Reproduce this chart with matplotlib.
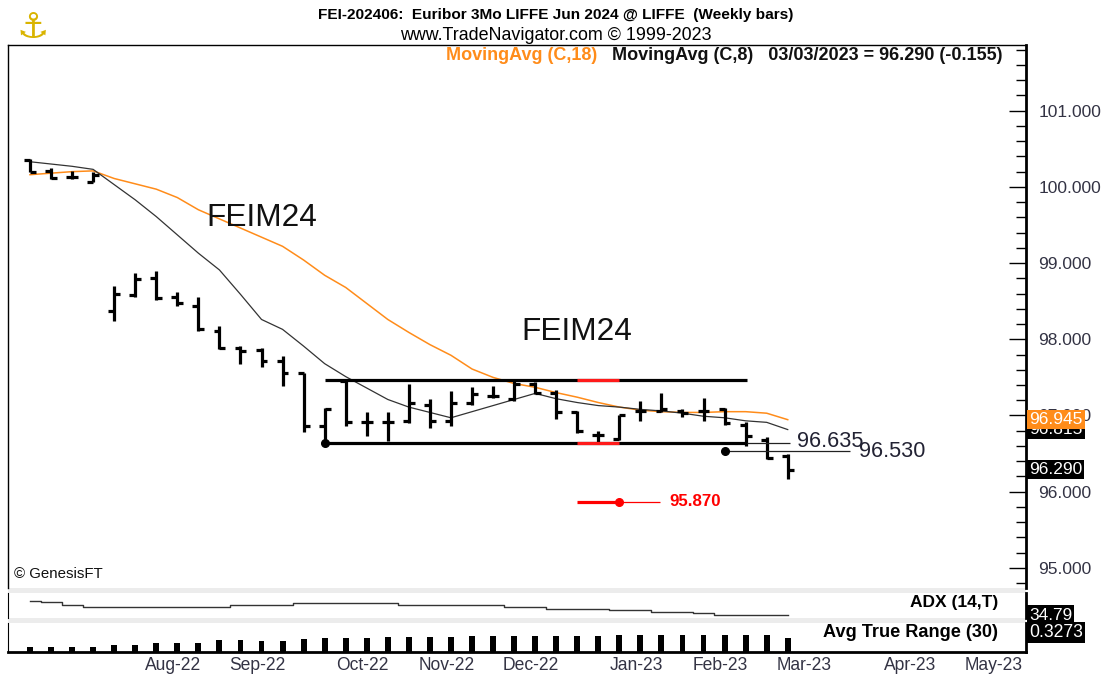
import matplotlib
matplotlib.use('Agg')
import matplotlib.pyplot as plt
import numpy as np
import pandas as pd
from matplotlib import font_manager as fm
from matplotlib.transforms import blended_transform_factory
from matplotlib.patches import Rectangle
from matplotlib.ticker import MultipleLocator

# ---------------- data ----------------
first_week = '2022-06-24'
n_bars = 37
opens  = [100.35, 100.21, 100.13, 100.07, 98.37, 98.58, 98.80, 98.55, 98.44, 98.11,
          97.89, 97.86, 97.71, 97.56, 96.86, 97.45, 96.91, 96.91, 96.93, 97.14,
          96.93, 97.17, 97.25, 97.21, 97.41, 97.30, 97.04, 96.75, 96.69, 97.06,
          97.06, 97.06, 97.06, 97.09, 96.88, 96.68, 96.47]
highs  = [100.36, 100.25, 100.21, 100.19, 98.70, 98.87, 98.90, 98.62, 98.55, 98.17,
          97.91, 97.88, 97.78, 97.56, 97.10, 97.47, 97.04, 97.04, 97.41, 97.22,
          97.32, 97.37, 97.39, 97.47, 97.44, 97.34, 97.06, 96.79, 97.01, 97.19,
          97.30, 97.08, 97.23, 97.10, 96.91, 96.72, 96.49]
lows   = [100.19, 100.11, 100.11, 100.06, 98.24, 98.55, 98.52, 98.44, 98.11, 97.87,
          97.68, 97.63, 97.39, 96.78, 96.635, 96.86, 96.73, 96.66, 96.90, 96.84,
          96.86, 97.14, 97.23, 97.19, 97.28, 96.95, 96.77, 96.65, 96.68, 96.93,
          97.04, 96.98, 96.93, 96.88, 96.60, 96.43, 96.16]
closes = [100.20, 100.12, 100.13, 100.16, 98.59, 98.79, 98.54, 98.47, 98.13, 97.89,
          97.84, 97.71, 97.56, 96.86, 97.08, 96.91, 96.91, 96.91, 97.17, 96.93,
          97.17, 97.28, 97.25, 97.41, 97.30, 97.04, 96.79, 96.75, 97.01, 97.06,
          97.08, 97.03, 97.06, 96.90, 96.73, 96.445, 96.29]
ma8  = [100.33, 100.30, 100.27, 100.23, 100.03, 99.83, 99.61, 99.37, 99.13, 98.91,
        98.59, 98.26, 98.13, 97.91, 97.68, 97.51, 97.36, 97.21, 97.11, 97.04,
        96.97, 97.05, 97.13, 97.21, 97.29, 97.22, 97.17, 97.13, 97.11, 97.08,
        97.06, 97.03, 96.99, 96.97, 96.93, 96.91, 96.815]
ma18 = [100.16, 100.18, 100.20, 100.21, 100.11, 100.04, 99.97, 99.86, 99.70, 99.58,
        99.46, 99.34, 99.22, 99.04, 98.84, 98.68, 98.47, 98.26, 98.09, 97.93,
        97.79, 97.61, 97.50, 97.42, 97.37, 97.30, 97.24, 97.17, 97.11, 97.07,
        97.05, 97.04, 97.04, 97.05, 97.05, 97.03, 96.945]
adx = [51.6, 50.0, 46.8, 44.4, 44.4, 44.4, 44.4, 44.4, 44.4, 44.4,
       46.8, 46.8, 46.8, 48.6, 48.6, 48.6, 48.6, 48.6, 46.2, 46.2,
       46.2, 46.2, 46.2, 43.8, 43.8, 42.0, 42.0, 42.0, 40.8, 40.8,
       38.8, 38.8, 36.8, 34.79, 34.79, 34.79, 34.79]
atr = [0.117, 0.117, 0.117, 0.117, 0.173, 0.173, 0.220, 0.220, 0.220, 0.274,
       0.274, 0.250, 0.250, 0.297, 0.327, 0.327, 0.327, 0.351, 0.360, 0.360,
       0.360, 0.379, 0.379, 0.379, 0.379, 0.379, 0.379, 0.379, 0.390, 0.390,
       0.390, 0.390, 0.390, 0.390, 0.390, 0.390, 0.3273]
month_labels = ['Aug-22', 'Sep-22', 'Oct-22', 'Nov-22', 'Dec-22', 'Jan-23',
                'Feb-23', 'Mar-23', 'Apr-23', 'May-23']
price_ticks = [95, 96, 97, 98, 99, 100, 101]
channel_top = 97.47
channel_bottom = 96.635
support_level = 96.53
target_level = 95.87
last_close = 96.290
last_change = -0.155
adx_last = 34.79
atr_last = 0.3273
chart_label = 'FEIM24'

# ---------------- setup ----------------
W, H = 1107, 675
names = {f.name for f in fm.fontManager.ttflist}
NARROW = 'Liberation Sans Narrow' if 'Liberation Sans Narrow' in names else 'Liberation Sans'
plt.rcParams['font.family'] = ['Liberation Sans', 'DejaVu Sans']

fig = plt.figure(figsize=(W / 100, H / 100), dpi=100)
fig.patch.set_facecolor('white')
renderer = fig.canvas.get_renderer()


def size_for(s, width_px, **kw):
    t = fig.text(0, 0, s, fontsize=10, **kw)
    w = t.get_window_extent(renderer).width
    t.remove()
    return 10.0 * width_px / w


def fx(px):
    return px / W


def fy(py):
    return 1 - py / H


left, right = 8, 1026
ax = fig.add_axes([fx(left), fy(588), fx(right - left), (588 - 45) / H])
ax_adx = fig.add_axes([fx(left), fy(618), fx(right - left), 25 / H])
ax_atr = fig.add_axes([fx(left), fy(652), fx(right - left), 29 / H])

# gray separator bands
for y0, y1 in [(588, 593), (618, 623)]:
    fig.add_artist(Rectangle((fx(left), fy(y1)), fx(right - left), (y1 - y0) / H,
                             transform=fig.transFigure, fc='#ececec', ec='none', zorder=0))

dates = pd.date_range(first_week, periods=60, freq='W-FRI')
x = np.arange(n_bars)
xlim = (-1.045, 47.32)

# ---------------- main price panel ----------------
ax.set_xlim(*xlim)
ax.set_ylim(94.736, 101.862)
bar_lw = 2.3
tick_len = 0.28
ax.vlines(x, lows, highs, color='black', lw=bar_lw, zorder=3)
ax.hlines(opens, x - tick_len, x, color='black', lw=bar_lw, zorder=3)
ax.hlines(closes, x, x + tick_len, color='black', lw=bar_lw, zorder=3)

ax.plot(x, ma18, color='#ff8c1a', lw=1.1, zorder=2)
ax.plot(x, ma8, color='#333333', lw=0.9, zorder=2)

# channel
i_start = int(np.argmin(np.abs(np.array(lows) - channel_bottom)))
ch_end = 34.06
ax.hlines([channel_top, channel_bottom], i_start, ch_end, color='black', lw=2.3, zorder=4)
ax.plot([i_start], [channel_bottom], 'o', color='black', ms=5.5, zorder=5)
ax.hlines([channel_top, channel_bottom], 26.0, 28.0, color='#ff1a1a', lw=2.3, zorder=5)
ax.hlines(channel_bottom, ch_end, 36.1, color='#222222', lw=0.9, zorder=4)
lab_fs = size_for(f'{channel_bottom:.3f}', 66)
ax.text(36.45, channel_bottom + 0.03, f'{channel_bottom:.3f}', fontsize=lab_fs,
        color='#222233', ha='left', va='center', zorder=6)
# support level
ax.hlines(support_level, 33.0, 38.95, color='#222222', lw=0.9, zorder=4)
ax.plot([33.0], [support_level], 'o', color='black', ms=5.5, zorder=5)
ax.text(39.4, support_level + 0.0, f'{support_level:.3f}', fontsize=lab_fs,
        color='#222233', ha='left', va='center', zorder=6)
# target
ax.hlines(target_level, 26.0, 28.0, color='#ff0000', lw=2.3, zorder=4)
ax.hlines(target_level, 28.0, 29.93, color='#ff0000', lw=0.9, zorder=4)
ax.plot([28.0], [target_level], 'o', color='#ff0000', ms=5.5, zorder=5)
ax.text(30.4, target_level, f'{target_level:.3f}', color='#ff0000', fontweight='bold',
        fontsize=size_for(f'{target_level:.3f}', 52, fontweight='bold'),
        ha='left', va='center', zorder=6)

# FEIM24 labels
feim_fs = size_for(chart_label, 111)
ax.text((262 - 30) / 21.05, 96 + (491.7 - 218) / 76.2, chart_label, fontsize=feim_fs,
        ha='center', va='center', color='#111111')
ax.text((577 - 30) / 21.05, 96 + (491.7 - 332) / 76.2, chart_label, fontsize=feim_fs,
        ha='center', va='center', color='#111111')

# axis styling
for s in ['bottom']:
    ax.spines[s].set_visible(False)
ax.spines['left'].set_linewidth(1.0)
ax.spines['top'].set_linewidth(1.0)
ax.spines['right'].set_linewidth(2.0)
ax.set_xticks([])
ax.yaxis.tick_right()
ax.set_yticks(price_ticks)
tick_fs = size_for('96.000', 53)
ax.set_yticklabels([f'{v:.3f}' for v in price_ticks])
ax.yaxis.set_minor_locator(MultipleLocator(0.2))
ax.tick_params(axis='y', which='major', direction='in', length=12, width=1,
               labelsize=tick_fs, labelcolor='#333344', pad=9)
ax.tick_params(axis='y', which='minor', direction='in', length=7, width=1)

trans = blended_transform_factory(ax.transAxes, ax.transData)
box_specs = [(ma8[-1], '#000000'), (ma18[-1], '#ff8c1a'), (last_close, '#000000')]
for val, col in box_specs:
    ax.annotate(f'{val:.3f}', xy=(1, val), xycoords=trans, xytext=(2.2, 0),
                textcoords='offset points', ha='left', va='center', color='white',
                fontsize=tick_fs, annotation_clip=False, zorder=10,
                bbox=dict(boxstyle='square,pad=0.12', fc=col, ec='none'))

ax.text(fx(14 - left) * W / (right - left), 0.012, '\u00a9 GenesisFT', transform=ax.transAxes,
        family=NARROW, fontsize=size_for('\u00a9 GenesisFT', 89, family=NARROW),
        ha='left', va='bottom', color='#111111')

# ---------------- ADX panel ----------------
ax_adx.set_xlim(*xlim)
ax_adx.set_ylim(31.19, 61.19)
ax_adx.plot(x, adx, color='#333333', lw=1.0, drawstyle='steps-mid')
ax_adx.set_xticks([])
ax_adx.set_yticks([])
ax_adx.spines['top'].set_visible(False)
ax_adx.spines['bottom'].set_visible(False)
ax_adx.spines['right'].set_linewidth(2.0)
adx_lab = 'ADX (14,T)'
ax_adx.text((998 - left) / (right - left), 0.6, adx_lab, transform=ax_adx.transAxes,
            family=NARROW, fontweight='bold', ha='right', va='center',
            fontsize=size_for(adx_lab, 88, family=NARROW, fontweight='bold'))
t_adx = blended_transform_factory(ax_adx.transAxes, ax_adx.transData)
ax_adx.annotate(f'{adx_last:.2f}', xy=(1, adx_last), xycoords=t_adx, xytext=(2.2, 0),
                textcoords='offset points', ha='left', va='center', color='white',
                family=NARROW, fontsize=size_for(f'{adx_last:.2f}', 43, family=NARROW),
                annotation_clip=False, zorder=10,
                bbox=dict(boxstyle='square,pad=0.12', fc='black', ec='none'))

# ---------------- ATR panel ----------------
ax_atr.set_xlim(*xlim)
ax_atr.set_ylim(0, 0.678)
ax_atr.bar(x, atr, width=0.28, color='black')
ax_atr.set_yticks([])
ax_atr.spines['top'].set_visible(False)
ax_atr.spines['right'].set_linewidth(2.0)
ax_atr.spines['bottom'].set_linewidth(2.0)
atr_lab = 'Avg True Range (30)'
ax_atr.text((998 - left) / (right - left), 0.66, atr_lab, transform=ax_atr.transAxes,
            family=NARROW, fontweight='bold', ha='right', va='center',
            fontsize=size_for(atr_lab, 175, family=NARROW, fontweight='bold'))
t_atr = blended_transform_factory(ax_atr.transAxes, ax_atr.transData)
ax_atr.annotate(f'{atr_last:.4f}', xy=(1, 0.66), xycoords=ax_atr.transAxes, xytext=(2.2, 0),
                textcoords='offset points', ha='left', va='center', color='white',
                family=NARROW, fontsize=size_for(f'{atr_last:.4f}', 54, family=NARROW),
                annotation_clip=False, zorder=10,
                bbox=dict(boxstyle='square,pad=0.12', fc='black', ec='none'))

# month ticks at the first weekly bar of each month
lbls = pd.Series(dates.strftime('%b-%y'))
month_pos = [int(lbls[lbls == m].index[0]) + 0.79 for m in month_labels]
ax_atr.set_xticks(month_pos)
ax_atr.set_xticklabels(month_labels)
ax_atr.tick_params(axis='x', length=0, pad=3.5, labelcolor='#333344',
                   labelsize=size_for('Aug-22', 57))

# ---------------- titles ----------------
title1 = 'FEI-202406:  Euribor 3Mo LIFFE Jun 2024 @ LIFFE  (Weekly bars)'
fig.text(fx(556), fy(15), title1, ha='center', va='center', family=NARROW,
         fontweight='bold', fontsize=size_for(title1, 474, family=NARROW, fontweight='bold'))
title2 = 'www.TradeNavigator.com \u00a9 1999-2023'
fig.text(fx(556), fy(36), title2, ha='center', va='center', family=NARROW,
         fontsize=size_for(title2, 312, family=NARROW))
leg1 = 'MovingAvg (C,18)'
leg2 = f'MovingAvg (C,8)   {dates[n_bars - 1]:%m/%d/%Y} = {last_close:.3f} ({last_change:.3f})'
leg_fs = size_for(leg2, 392, family=NARROW, fontweight='bold')
fig.text(fx(1002), fy(56), leg2, ha='right', va='center', family=NARROW,
         fontweight='bold', fontsize=leg_fs, color='#111111')
fig.text(fx(597), fy(56), leg1, ha='right', va='center', family=NARROW,
         fontweight='bold', fontsize=leg_fs, color='#ff8c1a')

# logo
fig.text(fx(33), fy(28), '\u2693', family='DejaVu Sans', fontsize=26, color='#d9b400',
         ha='center', va='center', fontweight='bold')

fig.savefig('out.png', dpi=100, facecolor='white')
